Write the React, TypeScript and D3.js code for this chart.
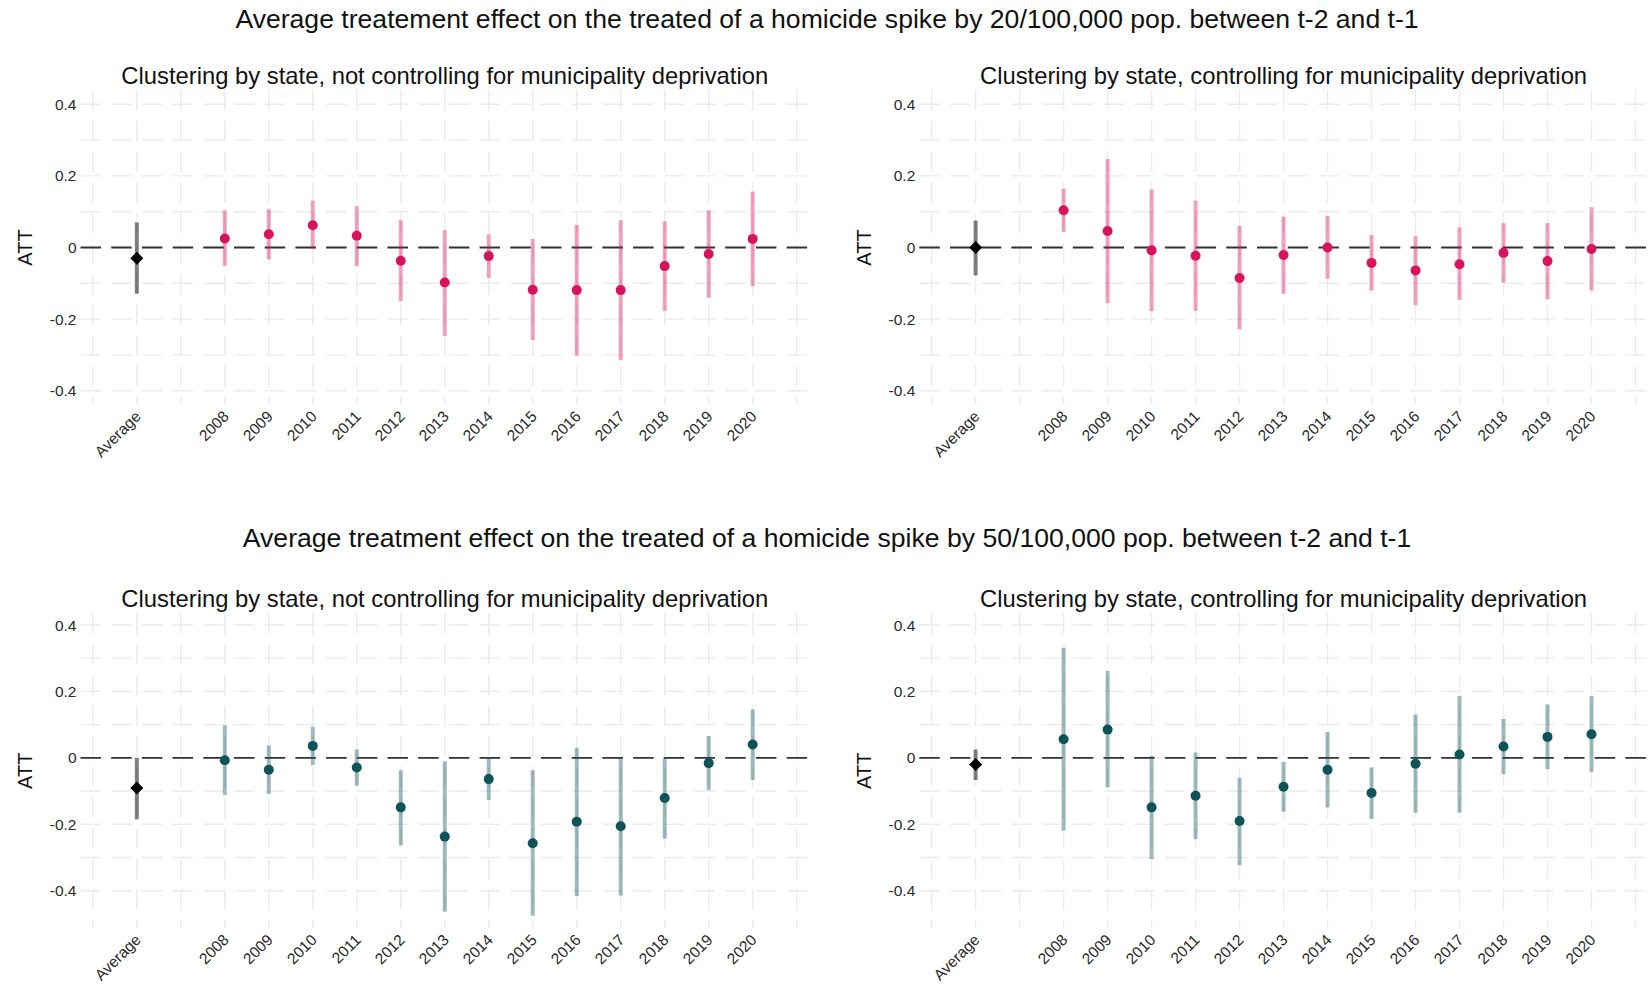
import * as React from 'react'
import { scaleLinear, range } from 'd3'

// categories on the x axis; "Average" sits one slot before the gap ahead of 2008
const categories = ['Average', '2008', '2009', '2010', '2011', '2012', '2013', '2014', '2015', '2016', '2017', '2018', '2019', '2020']
const yTicks = [-0.4, -0.2, 0, 0.2, 0.4]

// spike 20/100,000, no deprivation control
const est20NoCtrl = [-0.030, 0.025, 0.037, 0.062, 0.033, -0.037, -0.098, -0.024, -0.118, -0.119, -0.119, -0.052, -0.018, 0.024]
const lo20NoCtrl = [-0.129, -0.052, -0.033, -0.004, -0.052, -0.150, -0.247, -0.085, -0.258, -0.302, -0.315, -0.177, -0.141, -0.108]
const hi20NoCtrl = [0.070, 0.104, 0.107, 0.131, 0.116, 0.076, 0.048, 0.037, 0.024, 0.063, 0.076, 0.073, 0.104, 0.156]

// spike 20/100,000, controlling for deprivation
const est20Ctrl = [0.000, 0.104, 0.046, -0.008, -0.023, -0.085, -0.021, 0.000, -0.043, -0.064, -0.047, -0.015, -0.038, -0.004]
const lo20Ctrl = [-0.078, 0.044, -0.156, -0.178, -0.177, -0.229, -0.129, -0.087, -0.120, -0.161, -0.147, -0.098, -0.145, -0.120]
const hi20Ctrl = [0.075, 0.164, 0.247, 0.162, 0.131, 0.060, 0.086, 0.088, 0.035, 0.033, 0.056, 0.068, 0.068, 0.113]

// spike 50/100,000, no deprivation control
const est50NoCtrl = [-0.091, -0.007, -0.036, 0.036, -0.029, -0.149, -0.237, -0.064, -0.257, -0.192, -0.206, -0.121, -0.016, 0.040]
const lo50NoCtrl = [-0.185, -0.112, -0.109, -0.022, -0.084, -0.263, -0.463, -0.127, -0.475, -0.416, -0.414, -0.243, -0.097, -0.067]
const hi50NoCtrl = [0.000, 0.098, 0.037, 0.094, 0.025, -0.037, -0.010, 0.000, -0.037, 0.030, 0.000, -0.002, 0.066, 0.146]

// spike 50/100,000, controlling for deprivation
const est50Ctrl = [-0.020, 0.056, 0.085, -0.149, -0.114, -0.190, -0.087, -0.036, -0.106, -0.018, 0.010, 0.034, 0.063, 0.071]
const lo50Ctrl = [-0.067, -0.219, -0.089, -0.305, -0.245, -0.323, -0.162, -0.149, -0.184, -0.165, -0.165, -0.049, -0.034, -0.042]
const hi50Ctrl = [0.025, 0.331, 0.262, 0.006, 0.016, -0.060, -0.012, 0.078, -0.029, 0.130, 0.186, 0.117, 0.161, 0.186]

const title20 = 'Average treatement effect on the treated of a homicide spike by 20/100,000 pop. between t-2 and t-1'
const title50 = 'Average treatment effect on the treated of a homicide spike by 50/100,000 pop. between t-2 and t-1'
const subNoCtrl = 'Clustering by state, not controlling for municipality deprivation'
const subCtrl = 'Clustering by state, controlling for municipality deprivation'

const WIDTH = 1648
const HEIGHT = 984
const FONT = '"Liberation Sans", Arial, Helvetica, sans-serif'
const PINK = '#D6145E'
const TEAL = '#0E5358'
const DASH = '20.5 10.2'

const xPos = (c: string) => (c === 'Average' ? 2006 : +c)

interface PanelProps {
  left: number
  right: number
  top: number
  bottom: number
  yDomain: [number, number]
  est: number[]
  lo: number[]
  hi: number[]
  color: string
  subtitle: string
}

function Panel({ left, right, top, bottom, yDomain, est, lo, hi, color, subtitle }: PanelProps) {
  const x = scaleLinear().domain([2004.72, 2021.28]).range([left, right])
  const y = scaleLinear().domain(yDomain).range([bottom, top])
  const vGrid = range(2005, 2022)
  const hGrid = range(-4, 5).map((d) => d / 10)

  return (
    <g>
      <text x={(left + right) / 2} y={top - 6.5} textAnchor="middle" fontSize={23.8} fill="#111">
        {subtitle}
      </text>
      {hGrid.map((v) => (
        <line key={'h' + v} x1={left} x2={right} y1={y(v)} y2={y(v)} stroke="#EBEBEB" strokeWidth={1.4} strokeDasharray={DASH} />
      ))}
      {vGrid.map((v) => (
        <line key={'v' + v} x1={x(v)} x2={x(v)} y1={top} y2={bottom} stroke="#EBEBEB" strokeWidth={1.4} strokeDasharray={DASH} />
      ))}
      <line x1={left} x2={right} y1={y(0)} y2={y(0)} stroke="#333" strokeWidth={1.9} strokeDasharray={DASH} />
      {yTicks.map((t) => (
        <text key={'yt' + t} x={left - 4} y={y(t)} dy="0.36em" textAnchor="end" fontSize={15.5} fill="#2a2a2a">
          {t === 0 ? '0' : t.toFixed(1)}
        </text>
      ))}
      <text
        transform={`translate(${left - 56},${(top + bottom) / 2}) rotate(-90)`}
        textAnchor="middle"
        dy="0.36em"
        fontSize={20}
        fill="#111"
      >
        ATT
      </text>
      {categories.map((c) => (
        <text
          key={'xt' + c}
          transform={`translate(${x(xPos(c)) + 5},${bottom + 12.5}) rotate(-45)`}
          textAnchor="end"
          fontSize={15.5}
          fill="#2a2a2a"
        >
          {c}
        </text>
      ))}
      {categories.map((c, i) => (
        <line
          key={'ci' + c}
          x1={x(xPos(c))}
          x2={x(xPos(c))}
          y1={y(lo[i])}
          y2={y(hi[i])}
          stroke={i === 0 ? '#000' : color}
          strokeOpacity={i === 0 ? 0.5 : 0.4}
          strokeWidth={4}
        />
      ))}
      {categories.map((c, i) => {
        const cx = x(xPos(c))
        const cy = y(est[i])
        if (i === 0) {
          const r = 6.5
          return <path key={'pt' + c} d={`M${cx},${cy - r}L${cx + r},${cy}L${cx},${cy + r}L${cx - r},${cy}Z`} fill="#000" />
        }
        return <circle key={'pt' + c} cx={cx} cy={cy} r={5} fill={color} />
      })}
    </g>
  )
}

export default function App() {
  const leftL = 80.5
  const leftR = 809
  const rightL = 919.3
  const rightR = 1647.8
  return (
    <svg
      width={WIDTH}
      height={HEIGHT}
      style={{ position: 'absolute', left: 0, top: 0, background: '#fff', fontFamily: FONT }}
    >
      <rect width={WIDTH} height={HEIGHT} fill="#fff" />
      <text x={827} y={27.5} textAnchor="middle" fontSize={26.6} fill="#111">
        {title20}
      </text>
      <text x={827} y={546.5} textAnchor="middle" fontSize={26.6} fill="#111">
        {title50}
      </text>
      <Panel left={leftL} right={leftR} top={90} bottom={405} yDomain={[-0.44, 0.44]} est={est20NoCtrl} lo={lo20NoCtrl} hi={hi20NoCtrl} color={PINK} subtitle={subNoCtrl} />
      <Panel left={rightL} right={rightR} top={90} bottom={405} yDomain={[-0.44, 0.44]} est={est20Ctrl} lo={lo20Ctrl} hi={hi20Ctrl} color={PINK} subtitle={subCtrl} />
      <Panel left={leftL} right={leftR} top={613.3} bottom={928.3} yDomain={[-0.513, 0.435]} est={est50NoCtrl} lo={lo50NoCtrl} hi={hi50NoCtrl} color={TEAL} subtitle={subNoCtrl} />
      <Panel left={rightL} right={rightR} top={613.3} bottom={928.3} yDomain={[-0.513, 0.435]} est={est50Ctrl} lo={lo50Ctrl} hi={hi50Ctrl} color={TEAL} subtitle={subCtrl} />
    </svg>
  )
}
